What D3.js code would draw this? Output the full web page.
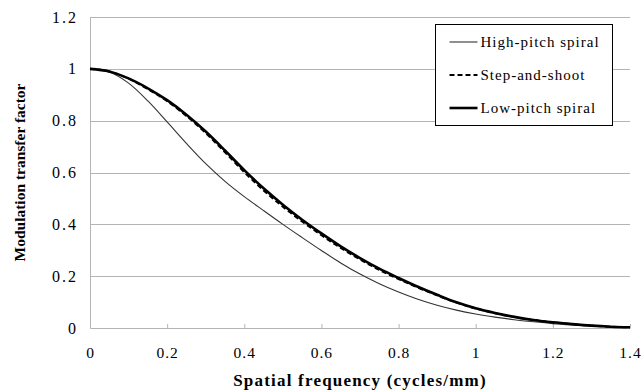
<!DOCTYPE html>
<html>
<head>
<meta charset="utf-8">
<script src="https://cdn.jsdelivr.net/npm/d3@7"></script>
<style>
  body { margin: 0; background: #fff; }
  svg text { font-family: 'Liberation Serif', 'Times New Roman', serif; fill: #000; }
</style>
</head>
<body>
<div id="root"></div>
<script>
const freq = [0, 0.05, 0.1, 0.15, 0.2, 0.25, 0.3, 0.35, 0.4, 0.45, 0.5, 0.55, 0.6, 0.65, 0.7,
  0.75, 0.8, 0.85, 0.9, 0.95, 1.0, 1.05, 1.1, 1.15, 1.2, 1.25, 1.3, 1.35, 1.4];

const highPitch = [1.0, 0.988, 0.945, 0.876, 0.795, 0.712, 0.634, 0.566, 0.507, 0.453, 0.40, 0.349, 0.299, 0.251, 0.208,
  0.171, 0.139, 0.111, 0.088, 0.069, 0.054, 0.042, 0.032, 0.024, 0.017, 0.012, 0.008, 0.005, 0.003];

const stepShoot = [1.0, 0.99, 0.962, 0.922, 0.875, 0.818, 0.752, 0.678, 0.601, 0.531, 0.468, 0.411, 0.358, 0.309, 0.265,
  0.224, 0.189, 0.156, 0.126, 0.098, 0.075, 0.057, 0.042, 0.031, 0.022, 0.015, 0.009, 0.005, 0.003];

const lowPitch = [1.0, 0.99, 0.963, 0.925, 0.879, 0.823, 0.758, 0.685, 0.609, 0.539, 0.476, 0.418, 0.365, 0.315, 0.27,
  0.229, 0.193, 0.159, 0.128, 0.099, 0.076, 0.058, 0.043, 0.031, 0.022, 0.015, 0.009, 0.005, 0.003];

const xTicks = [0, 0.2, 0.4, 0.6, 0.8, 1, 1.2, 1.4];
const yTicks = [0, 0.2, 0.4, 0.6, 0.8, 1, 1.2];

const series = [
  { name: 'High-pitch spiral', values: highPitch, width: 1.1, dash: null, color: '#333' },
  { name: 'Step-and-shoot', values: stepShoot, width: 2, dash: '5,3', color: '#000' },
  { name: 'Low-pitch spiral', values: lowPitch, width: 2.6, dash: null, color: '#000' },
];

const width = 641;
const height = 392;
const margin = { top: 17, right: 11, bottom: 64, left: 90 };
const chartWidth = width - margin.left - margin.right;
const chartHeight = height - margin.top - margin.bottom;
const gridColor = '#b4b4b4';

const svg = d3.select('#root').append('svg')
  .attr('width', width)
  .attr('height', height);

const chart = svg.append('g')
  .attr('transform', `translate(${margin.left}, ${margin.top})`);

const xScale = d3.scaleLinear().domain([0, 1.4]).range([0, chartWidth]);
const yScale = d3.scaleLinear().domain([0, 1.2]).range([chartHeight, 0]);

// horizontal gridlines
chart.append('g')
  .selectAll('line')
  .data(yTicks.filter(d => d > 0))
  .enter()
  .append('line')
  .attr('x1', 0)
  .attr('x2', chartWidth)
  .attr('y1', d => Math.round(yScale(d)) + 0.5)
  .attr('y2', d => Math.round(yScale(d)) + 0.5)
  .attr('stroke', gridColor);

const yAxis = d3.axisLeft(yScale)
  .tickValues(yTicks)
  .tickFormat(d3.format('~g'))
  .tickSize(0)
  .tickPadding(12);

chart.append('g')
  .attr('id', 'y-axis')
  .call(yAxis)
  .call(g => g.select('.domain').attr('stroke', gridColor))
  .call(g => g.selectAll('text')
    .attr('font-size', 16)
    .attr('letter-spacing', 2)
    .attr('font-family', null));

const xAxis = d3.axisBottom(xScale)
  .tickValues(xTicks)
  .tickFormat(d3.format('~g'))
  .tickSizeInner(-4)
  .tickSizeOuter(0)
  .tickPadding(19);

chart.append('g')
  .attr('id', 'x-axis')
  .attr('transform', `translate(0, ${chartHeight})`)
  .call(xAxis)
  .call(g => g.select('.domain').attr('stroke', gridColor))
  .call(g => g.selectAll('.tick line').attr('stroke', gridColor))
  .call(g => g.selectAll('text')
    .attr('font-size', 15.5)
    .attr('letter-spacing', 1)
    .attr('font-family', null));

const line = d3.line()
  .x((d, i) => xScale(freq[i]))
  .y(d => yScale(d))
  .curve(d3.curveCatmullRom);

chart.selectAll('path.series')
  .data(series)
  .enter()
  .append('path')
  .attr('class', 'series')
  .attr('fill', 'none')
  .attr('stroke', d => d.color)
  .attr('stroke-width', d => d.width)
  .attr('stroke-dasharray', d => d.dash)
  .attr('d', d => line(d.values));

// axis titles
svg.append('text')
  .attr('x', margin.left + chartWidth / 2)
  .attr('y', 386)
  .attr('text-anchor', 'middle')
  .attr('font-weight', 'bold')
  .attr('font-size', 17)
  .attr('letter-spacing', 1.2)
  .text('Spatial frequency (cycles/mm)');

svg.append('text')
  .attr('transform', `translate(25, ${margin.top + chartHeight / 2}) rotate(-90)`)
  .attr('text-anchor', 'middle')
  .attr('font-weight', 'bold')
  .attr('font-size', 15.5)
  .text('Modulation transfer factor');

// legend
const legend = svg.append('g')
  .attr('id', 'legend')
  .attr('transform', 'translate(435.5, 24.5)');

legend.append('rect')
  .attr('width', 177)
  .attr('height', 101)
  .attr('fill', '#fff')
  .attr('stroke', '#000');

const legendRow = legend.selectAll('g.row')
  .data(series)
  .enter()
  .append('g')
  .attr('class', 'row')
  .attr('transform', (d, i) => `translate(0, ${17.5 + i * 33})`);

legendRow.append('line')
  .attr('x1', 14)
  .attr('x2', 42)
  .attr('stroke', d => d.color)
  .attr('stroke-width', d => d.width)
  .attr('stroke-dasharray', d => d.dash);

legendRow.append('text')
  .attr('x', 45)
  .attr('dy', '0.35em')
  .attr('font-size', 15)
  .attr('letter-spacing', 1)
  .text(d => d.name);
</script>
</body>
</html>
